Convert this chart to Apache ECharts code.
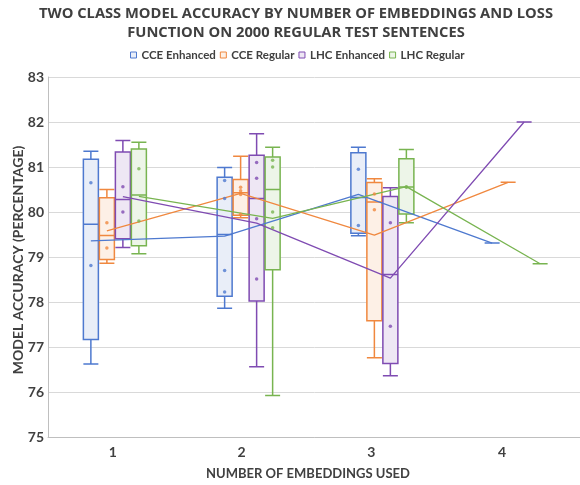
<!DOCTYPE html>
<html><head><meta charset="utf-8">
<script src="https://cdn.jsdelivr.net/npm/echarts@6/dist/echarts.min.js"></script>
<style>html,body{margin:0;padding:0;background:#fff}#c{width:580px;height:485px}</style>
</head><body><div id="c"></div>
<script>
// ---- data ----
const categories = ['1', '2', '3', '4'];
const seriesNames = ['CCE Enhanced', 'CCE Regular', 'LHC Enhanced', 'LHC Regular'];
const cceEnhanced = [[76.62, 78.81, 80.65, 81.35], [77.86, 78.22, 78.70, 80.30, 80.70, 80.99], [79.47, 79.70, 80.95, 81.44], [79.31]];
const cceRegular  = [[78.86, 79.20, 79.76, 80.50], [79.87, 79.95, 80.39, 80.47, 80.55, 81.24], [76.76, 80.05, 80.40, 80.74], [80.66]];
const lhcEnhanced = [[79.21, 80.00, 80.56, 81.59], [76.56, 78.51, 79.85, 80.75, 81.10, 81.74], [76.36, 77.46, 79.76, 80.54], [82.00]];
const lhcRegular  = [[79.07, 79.80, 80.96, 81.55], [75.92, 79.65, 80.00, 81.00, 81.15, 81.44], [79.76, 80.55, 80.56, 81.39], [78.85]];
const yMin = 75, yMax = 83, yStep = 1;
const titleLines = ['TWO CLASS MODEL ACCURACY BY NUMBER OF EMBEDDINGS AND LOSS', 'FUNCTION ON 2000 REGULAR TEST SENTENCES'];
const xTitle = 'NUMBER OF EMBEDDINGS USED';
const yTitle = 'MODEL ACCURACY (PERCENTAGE)';

// ---- styles ----
const allData = [cceEnhanced, cceRegular, lhcEnhanced, lhcRegular];
const lineColors = ['#4E79CF', '#F0883F', '#7F4BB2', '#78B450'];
const fillColors = ['#E9EEF8', '#FDF0E6', '#EEE7F4', '#EDF5E8'];
const slotOffsets = [-24, -8, 8, 24];
const labelShift = [2, 7, 11, 14];
const txt = '#404040';
const FONT = 'Lato';
const G = { left: 48, right: -3, top: 77, bottom: 48, outerBoundsMode: 'none', containLabel: false };

function q(sorted, p) {
  const n = sorted.length;
  if (n === 1) return sorted[0];
  const pos = (n + 1) * p, lo = Math.floor(pos);
  if (lo < 1) return sorted[0];
  if (lo >= n) return sorted[n - 1];
  return sorted[lo - 1] + (pos - lo) * (sorted[lo] - sorted[lo - 1]);
}
function stats(arr) {
  const s = arr.slice().sort((a, b) => a - b);
  const Q1 = q(s, 0.25), Q3 = q(s, 0.75);
  const med = s.length % 2 ? s[(s.length - 1) / 2] : (s[s.length / 2 - 1] + s[s.length / 2]) / 2;
  const iqr = Q3 - Q1;
  const inside = s.filter(v => v >= Q1 - 1.5 * iqr && v <= Q3 + 1.5 * iqr);
  return { box: [inside[0], Q1, med, Q3, inside[inside.length - 1]], mean: s.reduce((a, b) => a + b, 0) / s.length, inner: s.length > 2 ? s.slice(1, -1) : [] };
}

const grids = [Object.assign({}, G)];
const xAxes = [{
  type: 'category', data: categories, gridIndex: 0,
  axisLine: { lineStyle: { color: '#BFBFBF' } }, axisTick: { show: false },
  axisLabel: {
    margin: 8,
    formatter: (v, i) => '{l' + i + '|' + v + '}',
    rich: Object.fromEntries(labelShift.map((s, i) => ['l' + i, { padding: [0, s * 2, 0, 0], fontFamily: FONT, fontWeight: 'bold', fontSize: 14, color: txt }]))
  }
}];
const yAxes = [{
  type: 'value', min: yMin, max: yMax, interval: yStep, gridIndex: 0,
  axisLine: { show: true, lineStyle: { color: '#BFBFBF' } },
  splitLine: { lineStyle: { color: '#D9D9D9' } },
  axisLabel: { margin: 4, fontFamily: FONT, fontWeight: 'bold', fontSize: 14, color: txt }
}];
const series = [];
allData.forEach((d, i) => {
  const gi = i + 1;
  grids.push(Object.assign({}, G, { left: G.left + slotOffsets[i], right: G.right - slotOffsets[i] }));
  xAxes.push({ type: 'category', data: categories, gridIndex: gi, show: false });
  yAxes.push({ type: 'value', min: yMin, max: yMax, gridIndex: gi, show: false });
  const st = d.map(stats);
  series.push({
    name: seriesNames[i], type: 'boxplot', xAxisIndex: gi, yAxisIndex: gi,
    boxWidth: [15, 15],
    itemStyle: { color: fillColors[i], borderColor: lineColors[i], borderWidth: 1.5 },
    data: st.map(s => s.box), z: 2
  });
  series.push({
    name: seriesNames[i], type: 'line', xAxisIndex: gi, yAxisIndex: gi,
    data: st.map(s => s.mean), symbol: 'none',
    lineStyle: { color: lineColors[i], width: 1.3 }, itemStyle: { color: lineColors[i] }, z: 3
  });
  const pts = [];
  st.forEach((s, ci) => s.inner.forEach(v => pts.push([ci, v])));
  series.push({
    name: seriesNames[i], type: 'scatter', xAxisIndex: gi, yAxisIndex: gi,
    data: pts, symbolSize: 3.5, itemStyle: { color: lineColors[i] }, z: 4
  });
});

const chart = echarts.init(document.getElementById('c'));
chart.setOption({
  animation: false,
  grid: grids, xAxis: xAxes, yAxis: yAxes, series: series,
  legend: {
    top: 48, left: 130, padding: 0, itemWidth: 6, itemHeight: 6, itemGap: 4,
    data: seriesNames.map((n, i) => ({ name: n, icon: 'rect', itemStyle: { color: fillColors[i], borderColor: lineColors[i], borderWidth: 1 } })),
    textStyle: { fontFamily: FONT, fontSize: 11.5, fontWeight: 'bold', color: txt, lineHeight: 14 }
  },
  graphic: [
    { type: 'text', x: 296, y: 14, style: { text: titleLines[0], fill: txt, font: 'bold 14.7px "Open Sans"', textAlign: 'center', textVerticalAlign: 'middle' } },
    { type: 'text', x: 296, y: 33, style: { text: titleLines[1], fill: txt, font: 'bold 14.7px "Open Sans"', textAlign: 'center', textVerticalAlign: 'middle' } },
    { type: 'text', x: 308, y: 474, style: { text: xTitle, fill: txt, font: 'bold 13px Lato', textAlign: 'center', textVerticalAlign: 'middle' } },
    { type: 'text', x: 18, y: 260, rotation: Math.PI / 2, style: { text: yTitle, fill: txt, font: 'bold 14px Lato', textAlign: 'center', textVerticalAlign: 'middle' } }
  ]
});
</script></body></html>
